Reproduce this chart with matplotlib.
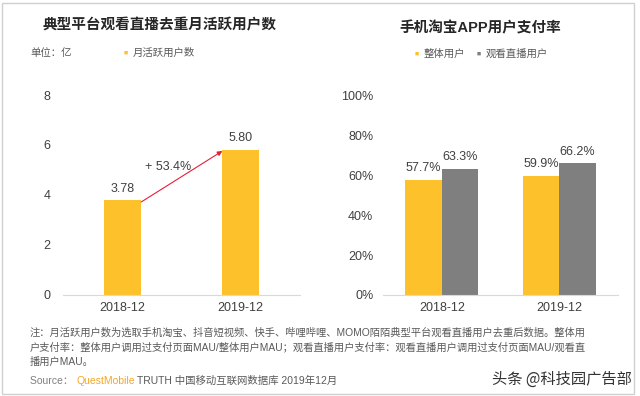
import numpy as np
import matplotlib.pyplot as plt
from matplotlib.patches import Rectangle

plt.rcParams['font.family'] = ['Liberation Sans', 'Noto Sans CJK SC', 'DejaVu Sans']

# left chart data
months = ['2018-12', '2019-12']
mau = [3.78, 5.80]
mau_labels = ['3.78', '5.80']
growth_label = '+ 53.4%'

# right chart data
pay_all = [57.7, 59.9]
pay_live = [63.3, 66.2]
pct_ticks = [0, 20, 40, 60, 80, 100]

yellow = '#FCC12B'
gray = '#7F7F7F'
txt = '#404040'
axis_c = '#D9D9D9'

fig = plt.figure(figsize=(6.4, 3.96), dpi=100)

# frame around the picture
fig.patches.append(Rectangle((2 / 640, 2 / 396), 632 / 640, 391 / 396, transform=fig.transFigure,
                             fill=False, edgecolor='#D0D0D0', lw=1.0))


def style(ax, ypad):
    for s in ['top', 'right', 'left']:
        ax.spines[s].set_visible(False)
    ax.spines['bottom'].set_color(axis_c)
    ax.tick_params(axis='both', length=0, colors=txt, labelsize=9)
    ax.tick_params(axis='y', pad=ypad)
    ax.tick_params(axis='x', pad=5)
    ax.set_facecolor('none')
    ax.set_xlim(-0.5, 1.5)


# ---- left chart
ax1 = fig.add_axes([63 / 640, 0.2551, 237 / 640, 0.505])
x = np.arange(len(months))
ax1.bar(x, mau, width=0.31, color=yellow, zorder=2)
ax1.set_ylim(0, 8)
ax1.set_yticks([0, 2, 4, 6, 8])
ax1.set_xticks(x, months)
style(ax1, 9)
for xi, v, lab in zip(x, mau, mau_labels):
    ax1.annotate(lab, (xi, v), xytext=(0, 4), textcoords='offset points', ha='center',
                 va='bottom', fontsize=9, color=txt)
ax1.annotate('', xy=(1 - 0.155, mau[1] - 0.04), xytext=(0.16, mau[0] - 0.06),
             arrowprops=dict(arrowstyle='-|>', color='#E3203A', lw=0.8,
                             mutation_scale=7, shrinkA=0, shrinkB=0))
ax1.text(0.384, 5.12, growth_label, ha='center', va='center', fontsize=9, color=txt)

fig.text(160 / 640, 1 - 25 / 396, '典型平台观看直播去重月活跃用户数', ha='center', va='center',
         fontsize=10.5, fontweight='bold', color='#262626')
fig.text(30 / 640, 1 - 53 / 396, '单位：亿', ha='left', va='center', fontsize=7.5, color='#595959')
fig.text(124 / 640, 1 - 53 / 396, '■', ha='left', va='center', fontsize=5, color=yellow)
fig.text(133 / 640, 1 - 53 / 396, '月活跃用户数', ha='left', va='center', fontsize=7.5, color='#595959')

# ---- right chart
ax2 = fig.add_axes([383 / 640, 0.2551, 235 / 640, 0.503])
w = 0.31
ax2.bar(x - w / 2, pay_all, width=w, color=yellow, zorder=2)
ax2.bar(x + w / 2, pay_live, width=w, color=gray, zorder=2)
ax2.set_ylim(0, 100)
ax2.set_yticks(pct_ticks, [f'{t}%' for t in pct_ticks])
ax2.set_xticks(x, months)
style(ax2, 7)
for xi, a, b in zip(x, pay_all, pay_live):
    ax2.annotate(f'{a}%', (xi - w / 2, a), xytext=(0, 4), textcoords='offset points',
                 ha='center', va='bottom', fontsize=9, color=txt)
    ax2.annotate(f'{b}%', (xi + w / 2, b), xytext=(0, 4), textcoords='offset points',
                 ha='center', va='bottom', fontsize=9, color=txt)

fig.text(480 / 640, 1 - 28 / 396, '手机淘宝APP用户支付率', ha='center', va='center',
         fontsize=10.5, fontweight='bold', color='#262626')
fig.text(415 / 640, 1 - 54 / 396, '■', ha='left', va='center', fontsize=5, color=yellow)
fig.text(424 / 640, 1 - 54 / 396, '整体用户', ha='left', va='center', fontsize=7.5, color='#595959')
fig.text(477 / 640, 1 - 54 / 396, '■', ha='left', va='center', fontsize=5, color=gray)
fig.text(486 / 640, 1 - 54 / 396, '观看直播用户', ha='left', va='center', fontsize=7.5, color='#595959')

# ---- notes
note = ['注：月活跃用户数为选取手机淘宝、抖音短视频、快手、哔哩哔哩、MOMO陌陌典型平台观看直播用户去重后数据。整体用',
        '户支付率：整体用户调用过支付页面MAU/整体用户MAU；观看直播用户支付率：观看直播用户调用过支付页面MAU/观看直',
        '播用户MAU。']
for i, line in enumerate(note):
    fig.text(30 / 640, 1 - (333 + 14.5 * i) / 396, line, ha='left', va='center', fontsize=7.4,
             color='#595959')

t = fig.text(30 / 640, 1 - 381 / 396, 'Source： ', ha='left', va='center', fontsize=7.5, color='#7F7F7F')
fig.canvas.draw()
r = fig.canvas.get_renderer()
bb = t.get_window_extent(r)
t2 = fig.text(bb.x1 / 640, 1 - 381 / 396, 'QuestMobile', ha='left', va='center', fontsize=7.5,
              color='#F5A623')
bb2 = t2.get_window_extent(r)
fig.text(bb2.x1 / 640 + 0.004, 1 - 381 / 396, 'TRUTH 中国移动互联网数据库 2019年12月', ha='left',
         va='center', fontsize=7.5, color='#595959')

fig.text(632 / 640, 1 - 379 / 396, '头条 @科技园广告部', ha='right', va='center', fontsize=11,
         color='#333333', family=['Noto Sans CJK SC', 'DejaVu Sans'])

fig.savefig('out.png', dpi=100)
